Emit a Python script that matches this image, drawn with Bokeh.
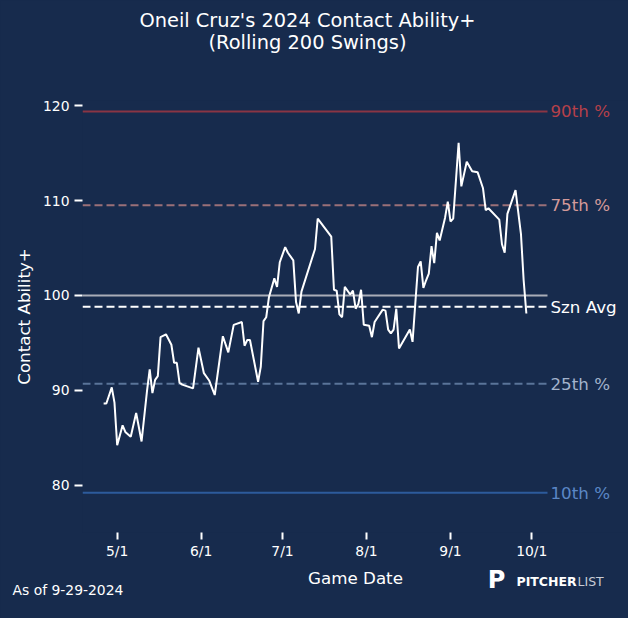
import pandas as pd
from bokeh.plotting import figure
from bokeh.models import Label, FixedTicker, Range1d
from bokeh.embed import file_html
from bokeh.resources import INLINE

# ---------------- data ----------------
dates = ["2024-04-26", "2024-04-27", "2024-04-29", "2024-04-30", "2024-05-01", "2024-05-03", "2024-05-04", "2024-05-06", "2024-05-08", "2024-05-10",
         "2024-05-12", "2024-05-13", "2024-05-14", "2024-05-15", "2024-05-16", "2024-05-17", "2024-05-19", "2024-05-21", "2024-05-22", "2024-05-23",
         "2024-05-24", "2024-05-25", "2024-05-29", "2024-05-31", "2024-06-02", "2024-06-04", "2024-06-06", "2024-06-09", "2024-06-11", "2024-06-13",
         "2024-06-16", "2024-06-17", "2024-06-18", "2024-06-19", "2024-06-22", "2024-06-23", "2024-06-24", "2024-06-25", "2024-06-26", "2024-06-28",
         "2024-06-29", "2024-06-30", "2024-07-02", "2024-07-03", "2024-07-05", "2024-07-06", "2024-07-07", "2024-07-08", "2024-07-13", "2024-07-14",
         "2024-07-19", "2024-07-20", "2024-07-21", "2024-07-22", "2024-07-23", "2024-07-24", "2024-07-26", "2024-07-27", "2024-07-28", "2024-07-29",
         "2024-07-30", "2024-07-31", "2024-08-02", "2024-08-03", "2024-08-04", "2024-08-07", "2024-08-08", "2024-08-09", "2024-08-10", "2024-08-11",
         "2024-08-12", "2024-08-13", "2024-08-17", "2024-08-18", "2024-08-19", "2024-08-20", "2024-08-21", "2024-08-22", "2024-08-23", "2024-08-24",
         "2024-08-25", "2024-08-26", "2024-08-27", "2024-08-28", "2024-08-30", "2024-08-31", "2024-09-01", "2024-09-02", "2024-09-04", "2024-09-05",
         "2024-09-07", "2024-09-09", "2024-09-11", "2024-09-13", "2024-09-14", "2024-09-15", "2024-09-19", "2024-09-20", "2024-09-21", "2024-09-22",
         "2024-09-25", "2024-09-27", "2024-09-28", "2024-09-29"]
contact_ability = [88.6, 88.6, 90.3, 88.7, 84.2, 86.3, 85.6, 85.1, 87.6, 84.6,
                   89.9, 92.2, 89.7, 91.1, 91.5, 95.6, 95.9, 94.8, 92.9, 92.9,
                   90.8, 90.6, 90.2, 94.5, 91.8, 91.0, 89.5, 95.7, 94.0, 96.9,
                   97.2, 94.7, 95.3, 95.3, 90.9, 92.5, 97.3, 97.7, 99.8, 101.8,
                   100.9, 103.5, 105.1, 104.5, 103.7, 99.3, 98.1, 100.4, 104.9, 108.1,
                   106.2, 100.6, 100.5, 98.0, 97.7, 100.9, 100.1, 100.5, 98.6, 99.1,
                   100.6, 96.9, 96.8, 95.6, 97.2, 98.5, 98.4, 96.4, 96.0, 96.4,
                   98.6, 94.4, 96.4, 95.1, 99.1, 103.0, 103.6, 100.8, 101.6, 102.3,
                   105.2, 103.4, 106.6, 105.8, 108.2, 109.9, 107.8, 108.1, 116.1, 111.5,
                   114.1, 113.1, 113.0, 111.3, 109.0, 109.2, 108.0, 105.4, 104.5, 108.6,
                   111.1, 106.5, 101.6, 98.1]

ref_values = [119.4, 109.5, 100.0, 98.8, 90.7, 79.2]
ref_labels = ["90th %", "75th %", "", "Szn Avg", "25th %", "10th %"]

y_ticks = [80, 90, 100, 110, 120]
tick_dates = ["2024-05-01", "2024-06-01", "2024-07-01", "2024-08-01", "2024-09-01", "2024-10-01"]
tick_labels = ["5/1", "6/1", "7/1", "8/1", "9/1", "10/1"]

title_lines = ["Oneil Cruz's 2024 Contact Ability+", "(Rolling 200 Swings)"]
as_of_text = "As of 9-29-2024"

# ---------------- styles / layout ----------------
BG = "#172B4D"
FONT = "DejaVu Sans"
ref_line_colors = ["#8A3544", "#9A7078", "#A9ADB8", "#FFFFFF", "#5A7499", "#2D5B9C"]
ref_text_colors = ["#B5404A", "#D49A9A", "#FFFFFF", "#FFFFFF", "#A3B3CC", "#5B87C6"]
ref_dash = ["solid", "8 4", "solid", "8 4", "8 4", "solid"]

W, H = 628, 618
BL, BR, BT, BB = 82, 0, 100, 82
FRAME_W = W - BL - BR
FRAME_H = H - BT - BB
DATA_W = 465          # width in px covered by the data axes area
PX_PER_UNIT = 9.57
Y0 = 75


def ms(d):
    return pd.Timestamp(d).value / 1e6


xs = [ms(d) for d in dates]
span_x = xs[-1] - xs[0]
x_start = xs[0] - 0.05 * span_x
x_end = xs[-1] + 0.05 * span_x
x_plot_end = x_start + (x_end - x_start) * FRAME_W / DATA_W

p = figure(width=W, height=H, output_backend="svg", toolbar_location=None,
           x_range=Range1d(x_start, x_plot_end),
           y_range=Range1d(Y0, Y0 + FRAME_H / PX_PER_UNIT),
           min_border_left=BL, min_border_right=BR, min_border_top=BT, min_border_bottom=BB)
p.background_fill_color = BG
p.border_fill_color = BG
p.outline_line_color = None
p.grid.visible = False
p.styles = {"background-color": BG}

for val, lc, dash in zip(ref_values, ref_line_colors, ref_dash):
    p.segment(x0=[x_start], x1=[x_end], y0=[val], y1=[val],
              line_color=lc, line_dash=dash, line_width=2)

p.line(xs, contact_ability, line_color="white", line_width=2)

for val, lab, tc in zip(ref_values, ref_labels, ref_text_colors):
    if lab:
        p.add_layout(Label(x=x_end, y=val, x_offset=3, text=lab, text_color=tc,
                           text_font=FONT, text_font_size="16.7px",
                           text_baseline="middle", text_align="left"))

# axes
for ax in (p.xaxis[0], p.yaxis[0]):
    ax.axis_line_color = None
    ax.major_tick_line_color = "white"
    ax.major_tick_line_width = 2
    ax.major_tick_in = 0
    ax.minor_tick_line_color = None
    ax.major_label_text_color = "white"
    ax.major_label_text_font = FONT
    ax.major_label_text_font_size = "13.9px"
    ax.axis_label_text_color = "white"
    ax.axis_label_text_font = FONT
    ax.axis_label_text_font_size = "16.7px"
    ax.axis_label_text_font_style = "normal"

p.yaxis.ticker = FixedTicker(ticks=y_ticks)
p.yaxis.major_tick_out = 8
p.yaxis.major_label_standoff = 5
p.yaxis.axis_label = "Contact Ability+"
p.yaxis.axis_label_standoff = 6

tick_ms = [ms(d) for d in tick_dates]
p.xaxis.ticker = FixedTicker(ticks=tick_ms)
p.xaxis.major_label_overrides = {t: l for t, l in zip(tick_ms, tick_labels)}
p.xaxis.major_tick_out = 7
p.xaxis.major_label_standoff = 3
p.xaxis.axis_label = "Game Date"
p.xaxis.axis_label_standoff = 6


def clabel(x, y, text, size, color="white", align="left", style="normal"):
    return Label(x=x, y=y, x_units="canvas", y_units="canvas", text=text,
                 text_color=color, text_font=FONT, text_font_size=size,
                 text_font_style=style, text_align=align, text_baseline="middle")


p.add_layout(clabel(307, 20, title_lines[0], "19.4px", align="center"), "above")
p.add_layout(clabel(307, 42, title_lines[1], "19.4px", align="center"), "above")
p.add_layout(clabel(12, 589, as_of_text, "13.9px"), "above")
p.add_layout(clabel(516, 581, "PITCHER", "12.5px", style="bold"), "above")
p.add_layout(clabel(577, 581, "LIST", "12.5px", color="#C8CCD6"), "above")
p.add_layout(clabel(496, 579, "P", "24px", align="center", style="bold"), "below")

open("out.html", "w").write(file_html(p, INLINE))
